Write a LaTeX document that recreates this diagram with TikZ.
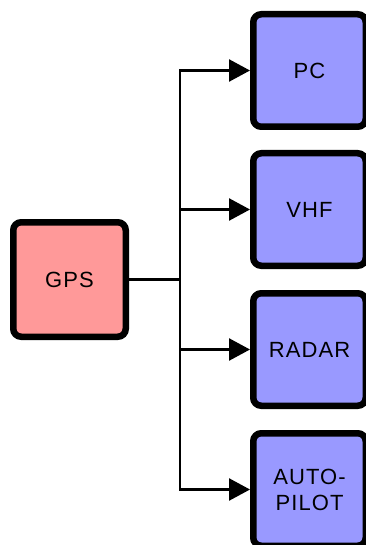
\documentclass[tikz,border=0pt]{standalone}
\usepackage{fontspec}
\setmainfont{Liberation Sans}[LetterSpace=5]
\usetikzlibrary{arrows.meta}
\definecolor{gpspink}{RGB}{255,153,153}
\definecolor{devblue}{RGB}{153,153,255}
\begin{document}
\begin{tikzpicture}[x=1pt,y=-1pt,
  unit/.style={draw=black, line width=6.5pt, rounded corners=8pt, inner sep=0pt,
    font=\fontsize{22}{26}\selectfont, align=center, text=black,
    minimum width=112.5pt, minimum height=112.5pt},
  source/.style={unit, fill=gpspink, minimum height=114.5pt},
  sink/.style={unit, fill=devblue},
  wire/.style={line width=2.4pt, draw=black},
  feed/.style={wire, -{Triangle[length=21pt,width=22pt]}}]
\clip (0,0) rectangle (366,545);
\fill[white] (0,0) rectangle (366,545);

% the receiver
\node[source] (gps) at (69.5,279.5) {GPS};

% the devices it feeds
\node[sink] (pc)    at (309.5,70.5)  {PC};
\node[sink] (vhf)   at (309.5,209.5) {VHF};
\node[sink] (radar) at (309.5,349.5) {RADAR};
\node[sink] (auto)  at (309.5,489.5) {AUTO-\\PILOT};

% distribution bus
\coordinate (bus) at (180,279.5);
\draw[wire] (gps.east) -- (bus);
\draw[feed] (bus) |- (pc.west);
\draw[feed] (bus) |- (vhf.west);
\draw[feed] (bus) |- (radar.west);
\draw[feed] (bus) |- (auto.west);
\end{tikzpicture}
\end{document}
